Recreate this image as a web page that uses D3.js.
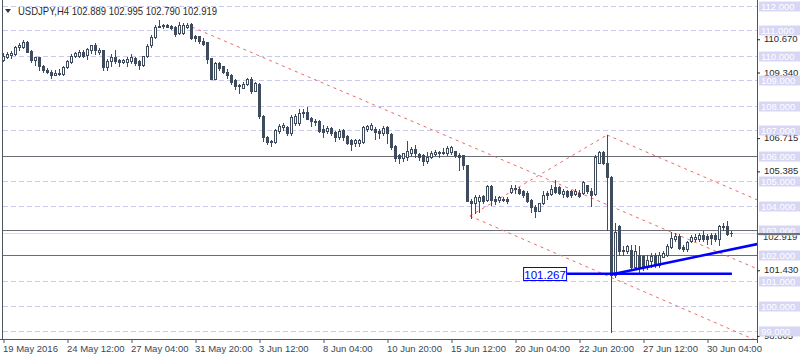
<!DOCTYPE html>
<html>
<head>
<meta charset="utf-8">
<script src="https://cdn.jsdelivr.net/npm/d3@7"></script>
<style>
  body { margin: 0; background: #fff; }
  text { font-family: "Liberation Sans", Arial, sans-serif; }
</style>
</head>
<body>
<div id="chart"></div>
<script>
// USDJPY H4 bars, 19 May 20:00 -> 1 Jul 04:00
const open = [109.81,109.95,110.03,110.05,110.35,110.35,110.53,110.19,109.81,109.92,
  109.60,109.44,109.36,109.23,109.25,109.25,109.55,109.73,110.00,109.97,
  110.16,110.03,110.21,110.40,110.13,110.21,109.55,109.76,109.95,109.81,
  109.73,109.73,109.79,109.89,109.76,109.63,109.97,110.40,110.75,111.15,
  111.17,111.20,111.17,111.12,110.91,110.91,111.15,111.25,110.77,110.77,
  110.59,110.53,109.89,109.07,109.68,109.57,109.36,109.20,109.01,108.83,
  108.72,108.88,109.04,108.59,108.88,107.60,106.75,106.55,106.55,106.99,
  107.15,107.13,106.91,107.31,107.29,107.70,107.74,107.50,107.39,107.37,
  107.07,106.97,107.10,106.94,106.75,107.02,106.78,106.62,106.49,106.51,
  106.54,107.05,107.07,107.07,106.99,106.89,107.13,106.86,106.38,106.01,
  105.90,105.95,106.11,106.27,106.06,106.01,105.77,105.95,106.06,106.11,
  106.11,106.09,106.14,106.17,106.01,106.01,105.61,104.19,104.11,104.17,
  104.38,104.22,104.78,104.27,104.22,104.27,104.25,104.54,104.67,104.67,
  104.57,104.51,104.22,103.95,103.79,104.09,104.49,104.46,104.75,104.73,
  104.46,104.57,104.57,104.46,104.51,104.49,104.81,104.57,104.46,105.71,
  106.14,105.70,105.15,101.22,103.18,102.19,102.19,102.22,101.53,102.03,
  101.98,101.53,101.79,102.01,101.61,101.95,102.01,102.35,102.65,102.78,
  102.35,102.25,102.59,102.67,102.67,102.81,102.78,102.81,102.81,102.65,
  103.18,103.18,102.889];
const high = [110.11,110.13,110.19,110.37,110.48,110.61,110.56,110.24,109.95,109.95,
  109.63,109.49,109.44,109.44,109.47,109.60,109.81,110.08,110.16,110.21,
  110.24,110.32,110.43,110.48,110.29,110.24,109.84,110.05,110.24,109.87,
  109.84,109.92,110.05,109.92,109.81,110.00,110.45,110.83,111.20,111.44,
  111.25,111.25,111.20,111.17,111.33,111.28,111.28,111.28,110.83,110.80,
  110.72,110.53,109.89,109.73,109.73,109.60,109.47,109.25,109.04,108.85,
  108.93,109.09,109.15,108.96,108.91,107.63,106.80,106.62,107.07,107.26,
  107.29,107.18,107.63,107.66,107.87,107.87,107.93,107.55,107.45,107.42,
  107.21,107.18,107.15,106.99,107.05,107.05,106.83,106.67,106.65,106.67,
  107.18,107.23,107.29,107.15,107.05,107.18,107.18,106.89,106.41,106.06,
  106.11,106.57,106.35,106.41,106.09,106.06,106.14,106.17,106.22,106.17,
  106.30,106.38,106.38,106.19,106.09,106.03,105.63,104.25,104.41,104.41,
  104.41,104.81,104.83,104.38,104.38,104.33,104.33,104.81,104.81,104.75,
  104.62,104.57,104.25,104.01,104.11,104.57,104.57,104.81,105.02,104.78,
  104.65,104.62,104.62,104.65,104.62,104.99,104.83,104.69,106.02,106.17,
  106.17,106.82,105.18,103.29,103.21,102.38,102.43,102.43,102.41,102.38,
  102.01,102.03,102.11,102.09,102.14,102.19,102.46,102.94,102.89,102.86,
  102.41,102.57,102.81,102.86,102.91,102.97,102.86,102.89,102.89,103.21,
  103.29,103.39,102.995];
const low = [109.77,109.89,109.89,110.03,110.21,110.32,110.14,109.73,109.64,109.41,
  109.33,109.31,109.09,109.20,109.20,109.23,109.49,109.71,109.92,109.92,
  109.95,109.87,110.11,110.05,110.08,109.41,109.41,109.57,109.71,109.60,
  109.68,109.57,109.71,109.63,109.47,109.57,109.92,110.35,110.72,111.12,
  111.09,111.12,111.07,110.77,110.88,110.88,111.09,110.64,110.59,110.51,
  110.40,109.68,109.04,109.04,109.44,109.28,109.09,108.85,108.67,108.51,
  108.69,108.83,108.51,108.56,107.52,106.59,106.45,106.38,106.51,106.89,
  107.02,106.83,106.81,107.23,107.23,107.55,107.45,107.18,107.23,106.94,
  106.73,106.89,106.83,106.57,106.67,106.62,106.46,106.22,106.38,106.38,
  106.49,106.97,107.00,106.65,106.70,106.81,106.51,106.25,105.77,105.71,
  105.79,105.82,105.98,105.95,105.82,105.61,105.71,105.90,106.01,105.95,
  106.06,106.03,106.06,105.93,105.42,105.47,104.17,103.50,103.69,103.74,
  104.11,104.17,104.01,104.06,104.14,104.17,104.09,104.51,104.51,104.46,
  104.35,104.14,103.75,103.55,103.77,104.06,104.25,104.41,104.49,104.46,
  104.35,104.33,104.35,104.41,104.33,104.46,104.49,103.98,104.43,105.69,
  105.66,103.02,98.95,101.15,102.02,102.02,102.09,101.49,101.45,101.34,
  101.42,101.45,101.55,101.53,101.55,101.93,101.98,102.30,102.59,102.25,
  102.19,102.19,102.54,102.59,102.59,102.59,102.46,102.46,102.59,102.41,
  103.02,102.81,102.790];
const close = [110.00,110.05,110.11,110.35,110.40,110.53,110.16,109.81,109.92,109.57,
  109.44,109.33,109.20,109.31,109.29,109.55,109.76,110.00,110.11,110.13,
  110.00,110.27,110.40,110.21,110.24,109.55,109.76,109.95,109.76,109.73,
  109.81,109.87,109.92,109.71,109.63,109.97,110.37,110.75,111.15,111.17,
  111.23,111.15,111.09,110.88,111.20,111.23,111.20,110.69,110.69,110.56,
  110.45,109.87,109.07,109.68,109.52,109.36,109.20,108.96,108.80,108.77,
  108.88,109.04,108.59,108.91,107.57,106.75,106.55,106.57,107.02,107.18,
  107.21,106.91,107.55,107.58,107.71,107.74,107.47,107.39,107.35,106.99,
  106.94,107.10,106.89,106.75,106.99,106.75,106.51,106.46,106.62,106.62,
  107.13,107.18,107.21,106.94,106.89,107.10,106.89,106.35,105.90,105.90,
  106.09,106.17,106.27,106.09,105.95,105.77,105.95,106.11,106.14,106.12,
  106.13,106.30,106.33,106.01,105.93,105.61,104.17,104.09,104.35,104.35,
  104.19,104.78,104.22,104.19,104.33,104.22,104.17,104.70,104.70,104.51,
  104.41,104.17,103.93,103.79,104.09,104.41,104.41,104.65,104.54,104.51,
  104.59,104.38,104.41,104.59,104.38,104.94,104.57,104.41,105.95,106.14,
  105.69,105.15,101.22,102.95,102.19,102.21,102.38,101.55,102.19,101.55,
  101.55,101.82,101.98,101.61,102.01,102.09,102.38,102.70,102.78,102.30,
  102.25,102.54,102.75,102.75,102.81,102.67,102.67,102.70,102.65,103.18,
  103.16,102.86,102.919];

const timeLabels = ["19 May 2016", "24 May 12:00", "27 May 04:00", "31 May 20:00",
  "3 Jun 12:00", "8 Jun 04:00", "10 Jun 20:00", "15 Jun 12:00", "20 Jun 04:00",
  "22 Jun 20:00", "27 Jun 12:00", "30 Jun 04:00"];
const timeTickIndex = [0, 16, 32, 48, 64, 80, 96, 112, 128, 144, 160, 176];

const gridPrices = [112, 111, 110, 109, 108, 107, 106, 105, 104, 103, 102, 101, 100, 99];
const scaleMarks = [110.670, 109.340, 106.715, 105.385, 101.430, 98.805];

// drawn objects: horizontal levels, red channel, blue support + trendline
const levelLines = [106.0, 103.0, 102.0];
const channelLines = [
  [[47.1, 111.14], [188.5, 101.46]],
  [[116.6, 103.58], [188.5, 98.58]],
  [[116.6, 103.58], [150.9, 106.82]],
  [[150.9, 106.82], [188.5, 104.22]]
];
const supportLevel = 101.267;
const supportSpan = [140.9, 182.1];
const trendLine = [[151.9, 101.24], [188.5, 102.46]];

const title = "USDJPY,H4  102.889 102.995 102.790 102.919";
const bidPrice = 102.919;

const width = 800, height = 360;
const plotLeft = 3, plotRight = 757, plotBottom = 339;
const candleColor = "#3e4c5e";
const axisFont = 9.5;

const svg = d3.select("#chart").append("svg")
    .attr("width", width)
    .attr("height", height);

const x = d3.scaleLinear()
    .domain([0, open.length - 1])
    .range([3.5, 3.5 + 4 * (open.length - 1)]);
const y = d3.scaleLinear().domain([99, 112]).range([330.5, 5.5]);
const py = v => Math.round(y(v));

svg.append("clipPath").attr("id", "plot")
  .append("rect")
    .attr("x", plotLeft).attr("y", 0)
    .attr("width", plotRight - plotLeft).attr("height", plotBottom);

// grid
svg.append("g").selectAll("line")
  .data(gridPrices)
  .join("line")
    .attr("x1", plotLeft).attr("x2", plotRight)
    .attr("y1", d => py(d) + 0.5).attr("y2", d => py(d) + 0.5)
    .attr("stroke", "#c9c9ef")
    .attr("stroke-dasharray", "5,3");

const over = svg.append("g").attr("clip-path", "url(#plot)");

// horizontal levels
over.selectAll(".level")
  .data(levelLines)
  .join("line")
    .attr("x1", plotLeft).attr("x2", plotRight)
    .attr("y1", d => py(d) + 0.5).attr("y2", d => py(d) + 0.5)
    .attr("stroke", "#6a6e74");

// bid line
over.append("line")
    .attr("x1", plotLeft).attr("x2", plotRight)
    .attr("y1", py(bidPrice) + 0.5).attr("y2", py(bidPrice) + 0.5)
    .attr("stroke", "#dcdcdc");

// red channel
over.selectAll(".chan")
  .data(channelLines)
  .join("line")
    .attr("x1", d => x(d[0][0])).attr("y1", d => y(d[0][1]))
    .attr("x2", d => x(d[1][0])).attr("y2", d => y(d[1][1]))
    .attr("stroke", "#ec6a6a")
    .attr("stroke-dasharray", "3,4");

// candles
const idx = d3.range(open.length);
const candles = over.append("g");
candles.selectAll(".wick")
  .data(idx)
  .join("line")
    .attr("x1", i => x(i)).attr("x2", i => x(i))
    .attr("y1", i => py(high[i])).attr("y2", i => py(low[i]) + 1)
    .attr("stroke", candleColor);

candles.selectAll(".body")
  .data(idx)
  .join("rect")
    .each(function (i) {
      let top = py(Math.max(open[i], close[i]));
      let bot = py(Math.min(open[i], close[i]));
      let r = d3.select(this);
      if (close[i] >= open[i] && bot - top >= 2) {
        r.attr("x", x(i) - 1).attr("y", top + 0.5)
         .attr("width", 2).attr("height", bot - top)
         .attr("fill", "#fff").attr("stroke", candleColor);
      } else {
        r.attr("x", x(i) - 1.5).attr("y", top)
         .attr("width", 3).attr("height", Math.max(1, bot - top + 1))
         .attr("fill", candleColor);
      }
    });

// blue support line and trendline
over.append("line")
    .attr("x1", x(supportSpan[0])).attr("x2", x(supportSpan[1]))
    .attr("y1", y(supportLevel)).attr("y2", y(supportLevel))
    .attr("stroke", "#0000ff").attr("stroke-width", 2.5);
over.append("line")
    .attr("x1", x(trendLine[0][0])).attr("y1", y(trendLine[0][1]))
    .attr("x2", x(trendLine[1][0])).attr("y2", y(trendLine[1][1]))
    .attr("stroke", "#0000ff").attr("stroke-width", 2.5);

let lx = x(supportSpan[0]);
svg.append("rect")
    .attr("x", lx - 43.5).attr("y", py(supportLevel) - 6.5)
    .attr("width", 43).attr("height", 13)
    .attr("fill", "#fff").attr("stroke", "#0000ff");
svg.append("text")
    .attr("x", lx - 22).attr("y", py(supportLevel) + 4.5)
    .attr("text-anchor", "middle")
    .attr("font-size", 11.5)
    .attr("fill", "#0000ff")
    .text(supportLevel.toFixed(3));

// frame
const axisColor = "#4d5660";
svg.append("line").attr("x1", 2.5).attr("x2", 2.5).attr("y1", 0).attr("y2", plotBottom)
    .attr("stroke", axisColor);
svg.append("line").attr("x1", plotRight + 0.5).attr("x2", plotRight + 0.5)
    .attr("y1", 0).attr("y2", plotBottom + 4).attr("stroke", axisColor);
svg.append("line").attr("x1", 0).attr("x2", plotRight).attr("y1", plotBottom + 0.5)
    .attr("y2", plotBottom + 0.5).attr("stroke", axisColor);

// time axis
const xAxis = svg.append("g")
    .attr("transform", `translate(0,${plotBottom})`)
    .call(d3.axisBottom(x)
      .tickValues(timeTickIndex)
      .tickFormat((d, i) => timeLabels[i])
      .tickSize(4)
      .tickSizeOuter(0));
xAxis.select(".domain").remove();
xAxis.selectAll("line").attr("stroke", axisColor);
xAxis.selectAll("text")
    .attr("text-anchor", "start")
    .attr("x", -1).attr("dy", "0.71em").attr("y", 6)
    .attr("font-size", axisFont)
    .attr("font-family", "Liberation Sans, Arial, sans-serif")
    .attr("fill", "#3a4654");

// price scale
const yAxis = svg.append("g")
    .attr("transform", `translate(${plotRight},0)`)
    .call(d3.axisRight(y)
      .tickValues(scaleMarks)
      .tickFormat(d3.format(".3f"))
      .tickSize(3)
      .tickPadding(4));
yAxis.select(".domain").remove();
yAxis.selectAll("line").attr("stroke", "#222").attr("transform", "translate(0,0.5)");
yAxis.selectAll("text")
    .attr("font-size", axisFont)
    .attr("font-family", "Liberation Sans, Arial, sans-serif")
    .attr("fill", "#2a2a2a");

// bid label under the 103 box
svg.append("text")
    .attr("x", 763).attr("y", py(bidPrice) + 7)
    .attr("font-size", axisFont).attr("fill", "#333")
    .text(bidPrice.toFixed(3));

const boxes = svg.append("g");
boxes.selectAll("rect")
  .data(gridPrices)
  .join("rect")
    .attr("x", 759).attr("y", d => py(d) - 4.5)
    .attr("width", 41).attr("height", 10)
    .attr("fill", "#d7d7f5");
boxes.selectAll("text")
  .data(gridPrices)
  .join("text")
    .attr("x", 761).attr("y", d => py(d) + 4)
    .attr("font-size", axisFont)
    .attr("fill", "#fff")
    .text(d => d3.format(".3f")(d));

svg.append("line")
    .attr("x1", plotRight).attr("x2", width)
    .attr("y1", py(bidPrice) + 1).attr("y2", py(bidPrice) + 1)
    .attr("stroke", "#4a4f55").attr("stroke-width", 1.5);

// title
svg.append("path")
    .attr("d", "M5,9 L11,9 L8,13 Z")
    .attr("fill", "#333");
svg.append("text")
    .attr("x", 18).attr("y", 15)
    .attr("font-size", 10.5)
    .attr("fill", "#2b2b2b")
    .attr("textLength", 199)
    .attr("lengthAdjust", "spacingAndGlyphs")
    .text(title);
</script>
</body>
</html>
